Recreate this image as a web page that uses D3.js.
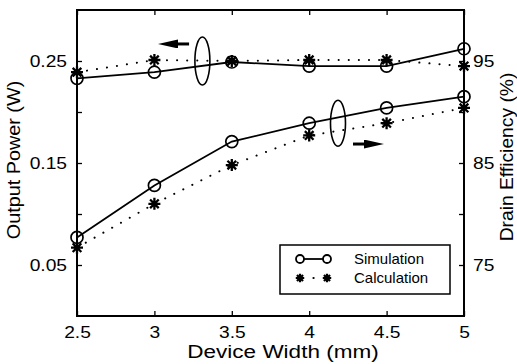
<!DOCTYPE html>
<html>
<head>
<meta charset="utf-8">
<script src="https://cdn.jsdelivr.net/npm/d3@7"></script>
<style>
body { margin: 0; background: #fff; }
text { font-family: "Liberation Sans", Arial, Helvetica, sans-serif; fill: #000; }
</style>
</head>
<body>
<script>
// dados
const larguras = [2.5, 3, 3.5, 4, 4.5, 5]
const potSim = [0.077, 0.128, 0.171, 0.189, 0.204, 0.215]
const potCalc = [0.067, 0.110, 0.148, 0.177, 0.189, 0.204]
const efSim = [93.3, 93.9, 94.9, 94.5, 94.5, 96.2]
const efCalc = [93.9, 95.1, 95.0, 95.1, 95.1, 94.5]

const ticksX = [2.5, 3, 3.5, 4, 4.5, 5]
const ticksPot = [0.05, 0.1, 0.15, 0.2, 0.25]
const rotulosPot = [0.05, 0.15, 0.25]
const ticksEf = [75, 80, 85, 90, 95]
const rotulosEf = [75, 85, 95]
const legenda = ["Simulation", "Calculation"]

const W = 517, H = 364
const esq = 77, dir = 464, topo = 10, base = 316

svg = d3.select("body").append("svg")
  .attr("width", W)
  .attr("height", H)

var escalaX = d3.scaleLinear().domain([2.5, 5]).range([esq, dir])
var escalaPot = d3.scaleLinear().domain([0, 0.3]).range([base, topo])
var escalaEf = d3.scaleLinear().domain([70, 100]).range([base, topo])

// a figura original parece esticada na horizontal
function esticar(sel, f) {
  sel.each(function() {
    var L = this.getComputedTextLength()
    if (L > 0) d3.select(this).attr("textLength", L * f).attr("lengthAdjust", "spacingAndGlyphs")
  })
}

// eixos com ticks para dentro
function estilo(g) {
  g.selectAll("text").style("font-size", "16px").attr("fill", "#000")
  g.selectAll("line").attr("stroke", "#000").attr("stroke-width", 1.3)
  g.select(".domain").remove()
  esticar(g.selectAll("text"), 1.2)
}

svg.append("g").attr("transform", `translate(0,${base})`)
  .call(d3.axisBottom(escalaX).tickValues(ticksX).tickSize(-5).tickPadding(11)
    .tickFormat(d => d3.format("")(d)))
  .call(estilo)

svg.append("g").attr("transform", `translate(0,${topo})`)
  .call(d3.axisTop(escalaX).tickValues(ticksX).tickSize(-5).tickFormat(""))
  .call(estilo)

svg.append("g").attr("transform", `translate(${esq},0)`)
  .call(d3.axisLeft(escalaPot).tickValues(ticksPot).tickSize(-5).tickPadding(10)
    .tickFormat(d => rotulosPot.some(v => Math.abs(v - d) < 1e-9) ? d3.format(".2f")(d) : ""))
  .call(estilo)

svg.append("g").attr("transform", `translate(${dir},0)`)
  .call(d3.axisRight(escalaEf).tickValues(ticksEf).tickSize(-5).tickPadding(9)
    .tickFormat(d => rotulosEf.includes(d) ? d : ""))
  .call(estilo)

// moldura
svg.append("rect")
  .attr("x", esq).attr("y", topo)
  .attr("width", dir - esq).attr("height", base - topo)
  .attr("fill", "none").attr("stroke", "#000").attr("stroke-width", 2)

// simbolo asterisco (4 tracos)
const estrela = {
  draw(ctx, size) {
    const r = Math.sqrt(size) / 2
    const d = r * 0.72
    ctx.moveTo(-r, 0); ctx.lineTo(r, 0)
    ctx.moveTo(0, -r); ctx.lineTo(0, r)
    ctx.moveTo(-d, -d); ctx.lineTo(d, d)
    ctx.moveTo(-d, d); ctx.lineTo(d, -d)
  }
}

function serie(valores, escalaY, tipo) {
  var linha = d3.line().x((d, i) => escalaX(larguras[i])).y(d => escalaY(d))
  var caminho = svg.append("path").datum(valores)
    .attr("d", linha).attr("fill", "none").attr("stroke", "#000")
  if (tipo == "sim") {
    caminho.attr("stroke-width", 1.8)
    svg.append("g").selectAll("circle").data(valores).join("circle")
      .attr("cx", (d, i) => escalaX(larguras[i]))
      .attr("cy", d => escalaY(d))
      .attr("r", 6)
      .attr("fill", "none").attr("stroke", "#000").attr("stroke-width", 1.7)
  } else {
    caminho.attr("stroke-width", 2).attr("stroke-dasharray", "0.1,10").attr("stroke-linecap", "round")
    svg.append("g").selectAll("path").data(valores).join("path")
      .attr("transform", (d, i) => `translate(${escalaX(larguras[i])},${escalaY(d)})`)
      .attr("d", d3.symbol(estrela, 144))
      .attr("fill", "none").attr("stroke", "#000").attr("stroke-width", 2.3)
  }
}

serie(efSim, escalaEf, "sim")
serie(efCalc, escalaEf, "calc")
serie(potSim, escalaPot, "sim")
serie(potCalc, escalaPot, "calc")

// elipses e setas de anotacao
svg.append("defs").append("marker")
  .attr("id", "ponta").attr("viewBox", "0 0 20 10")
  .attr("refX", 1).attr("refY", 5)
  .attr("markerUnits", "userSpaceOnUse")
  .attr("markerWidth", 20).attr("markerHeight", 9)
  .attr("preserveAspectRatio", "none")
  .attr("orient", "auto")
  .append("path").attr("d", "M0,0L20,5L0,10Z").attr("fill", "#000")

svg.append("ellipse")
  .attr("cx", escalaX(3.31)).attr("cy", escalaEf(95.0))
  .attr("rx", 7.5).attr("ry", 24)
  .attr("fill", "none").attr("stroke", "#000").attr("stroke-width", 1.6)
svg.append("line")
  .attr("x1", escalaX(3.224)).attr("y1", escalaEf(96.67))
  .attr("x2", escalaX(3.146)).attr("y2", escalaEf(96.67))
  .attr("stroke", "#000").attr("stroke-width", 3).attr("marker-end", "url(#ponta)")

svg.append("ellipse")
  .attr("cx", escalaX(4.186)).attr("cy", escalaPot(0.189))
  .attr("rx", 7.5).attr("ry", 23)
  .attr("fill", "none").attr("stroke", "#000").attr("stroke-width", 1.6)
svg.append("line")
  .attr("x1", escalaX(4.283)).attr("y1", escalaPot(0.1686))
  .attr("x2", escalaX(4.36)).attr("y2", escalaPot(0.1686))
  .attr("stroke", "#000").attr("stroke-width", 3).attr("marker-end", "url(#ponta)")

// legenda
var leg = svg.append("g").attr("transform", "translate(280,245)")
leg.append("rect").attr("width", 170).attr("height", 49)
  .attr("fill", "#fff").attr("stroke", "#000").attr("stroke-width", 1.5)

leg.append("line").attr("x1", 20).attr("x2", 47).attr("y1", 14).attr("y2", 14)
  .attr("stroke", "#000").attr("stroke-width", 1.8)
leg.selectAll("circle").data([20, 47]).join("circle")
  .attr("cx", d => d).attr("cy", 14).attr("r", 4)
  .attr("fill", "#fff").attr("stroke", "#000").attr("stroke-width", 1.8)

leg.append("line").attr("x1", 20).attr("x2", 47).attr("y1", 33).attr("y2", 33)
  .attr("stroke", "#000").attr("stroke-width", 2.2).attr("stroke-dasharray", "0.1,13.5")
  .attr("stroke-dashoffset", -13.5).attr("stroke-linecap", "round")
leg.selectAll("path.m").data([20, 47]).join("path").attr("class", "m")
  .attr("transform", d => `translate(${d},33)`)
  .attr("d", d3.symbol(estrela, 72))
  .attr("fill", "none").attr("stroke", "#000").attr("stroke-width", 2.2)

leg.selectAll("text").data(legenda).join("text")
  .attr("x", 74).attr("y", (d, i) => 14 + i * 19)
  .attr("dy", "0.35em")
  .style("font-size", "15px")
  .text(d => d)

// titulos dos eixos
var tx = svg.append("text")
  .attr("x", 283).attr("y", 358)
  .attr("text-anchor", "middle")
  .style("font-size", "18px")
  .text("Device Width (mm)")
esticar(tx, 1.25)

var ty1 = svg.append("text")
  .attr("transform", "translate(14,160) rotate(-90)")
  .attr("text-anchor", "middle").attr("dy", "0.35em")
  .style("font-size", "18px")
  .text("Output Power (W)")
esticar(ty1, 1.1)

var ty2 = svg.append("text")
  .attr("transform", "translate(507,157) rotate(-90)")
  .attr("text-anchor", "middle").attr("dy", "0.35em")
  .style("font-size", "18px")
  .text("Drain Efficiency (%)")
esticar(ty2, 1.07)
</script>
</body>
</html>
